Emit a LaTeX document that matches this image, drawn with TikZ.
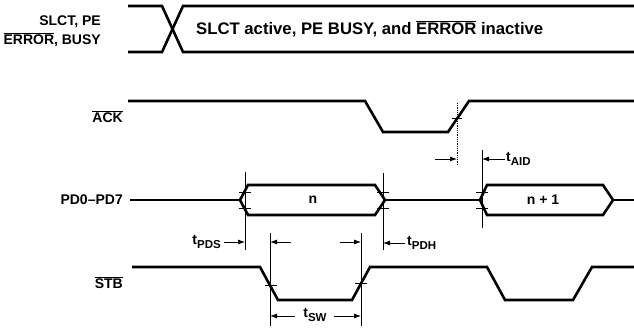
\documentclass[tikz,border=0pt]{standalone}
\usepackage{fontspec}
\setmainfont{Liberation Sans}
\usepackage{tikz}
\usetikzlibrary{arrows.meta}

\newcommand{\tlbl}[1]{t\raisebox{-0.5ex}{\fontsize{11.5}{13}\selectfont #1}}
\newcommand{\ovl}[1]{$\overline{\mbox{#1}}$}

\begin{document}
\begin{tikzpicture}[x=1pt,y=-1pt,
    sig/.style={line width=2.6pt,line join=miter},
    guide/.style={line width=0.8pt},
    tickmark/.style={line width=0.8pt},
    dim/.style={line width=0.8pt,-{Latex[length=7pt,width=5pt]}},
    lbl/.style={inner sep=0pt,font=\fontsize{14}{16}\selectfont\bfseries}]
  \useasboundingbox (0,0) rectangle (634,329);
  % status lines
  \draw[sig] (128,6) -- (162,6) -- (183,52) -- (634,52);
  \draw[sig] (128,52) -- (162,52) -- (183,6) -- (634,6);
  \node[lbl,anchor=east] (slct) at (101,22) {SLCT, PE};
  \node[lbl,anchor=east] (err) at (101,40) {\ovl{ERROR}, BUSY};
  \node[lbl,anchor=west,font=\fontsize{16.7}{18}\selectfont\bfseries] (state) at (196,29) {SLCT active, PE BUSY, and \ovl{ERROR} inactive};
  % acknowledge
  \draw[sig] (128,101) -- (365,101) -- (383,132) -- (448,132) -- (469,101) -- (634,101);
  \node[lbl,anchor=east] (ack) at (123,117) {\ovl{ACK}};
  \coordinate (ackx) at (457,118.7);
  \draw[tickmark] ([xshift=-5pt]ackx) -- ([xshift=5pt]ackx);
  \draw[guide,densely dotted] (457,103) -- (457,166);
  \draw[guide] (482,150) -- (482,228);
  \draw[dim] (435,159) -- (457,159);
  \draw[dim] (505,159) -- (482,159);
  \node[lbl,anchor=west] (taid) at (506,159) {\tlbl{AID}};
  % data bus
  \draw[sig] (130,200) -- (240,200);
  \draw[sig] (240,200) -- (248,185) -- (375,185) -- (385,200) -- (375,215) -- (248,215) -- cycle;
  \draw[sig] (385,200) -- (480,200);
  \draw[sig] (480,200) -- (487,185) -- (603,185) -- (613,200) -- (603,215) -- (487,215) -- cycle;
  \draw[sig] (613,200) -- (634,200);
  \node[lbl,anchor=east] (pd) at (123,200) {PD0--PD7};
  \node[lbl] (byte) at (313,200) {n};
  \node[lbl] (nextbyte) at (543,200) {n + 1};
  \foreach \xx in {245,383,482}{
    \draw[tickmark] (\xx-6,192) -- (\xx+6,192);
    \draw[tickmark] (\xx-6,208) -- (\xx+6,208);
  }
  \draw[guide] (245,172) -- (245,250);
  \draw[guide] (383,173) -- (383,250);
  \draw[dim] (224,242) -- (245,242);
  \node[lbl,anchor=east] (tpds) at (221,242) {\tlbl{PDS}};
  \draw[dim] (405,243) -- (383,243);
  \node[lbl,anchor=west] (tpdh) at (407,243) {\tlbl{PDH}};
  % strobe
  \draw[sig] (132,267) -- (260,267) -- (278,300) -- (352,300) -- (370,267) -- (487,267) -- (505,300) -- (573,300) -- (592,267) -- (634,267);
  \node[lbl,anchor=east] (stb) at (123,283) {\ovl{STB}};
  \draw[tickmark] (265,285) -- (277,285);
  \draw[tickmark] (355,283.5) -- (367,283.5);
  \draw[guide] (270,233) -- (270,326);
  \draw[guide] (361,233) -- (361,326);
  \draw[dim] (291,242) -- (270,242);
  \draw[dim] (340,242) -- (361,242);
  \draw[dim] (295,316) -- (270,316);
  \node[lbl] (tsw) at (315,315) {\tlbl{SW}};
  \draw[dim] (334,316) -- (361,316);
\end{tikzpicture}
\end{document}
